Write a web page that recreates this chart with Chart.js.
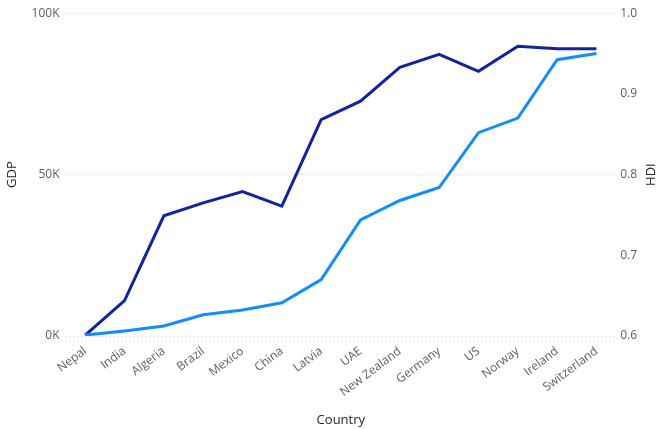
<!DOCTYPE html>
<html>
<head>
<meta charset="utf-8">
<script src="https://cdn.jsdelivr.net/npm/chart.js@4/dist/chart.umd.min.js"></script>
<style>
  html, body { margin: 0; padding: 0; background: #fff; }
  #wrap { width: 662px; height: 429px; }
</style>
</head>
<body>
<div id="wrap"><canvas id="myChart"></canvas></div>
<script>
var countries = ["Nepal", "India", "Algeria", "Brazil", "Mexico", "China", "Latvia", "UAE",
    "New Zealand", "Germany", "US", "Norway", "Ireland", "Switzerland"];
var gdp = [300, 1600, 3100, 6600, 8100, 10300, 17500, 36000, 42000, 46000, 63000, 67500, 85600, 87500];
var hdi = [0.601, 0.644, 0.749, 0.765, 0.779, 0.761, 0.868, 0.891, 0.933, 0.949, 0.928, 0.959, 0.956, 0.956];
var gdpTicks = [0, 50000, 100000];
var hdiTicks = [0.6, 0.7, 0.8, 0.9, 1.0];

var font = "'Segoe UI', 'Open Sans', sans-serif";

// right axis title reads bottom-to-top like the left one
var hdiTitle = {
    id: "hdiTitle",
    afterDraw: function (chart) {
        var c = chart.ctx;
        c.save();
        c.translate(651, (chart.chartArea.top + chart.chartArea.bottom) / 2);
        c.rotate(-Math.PI / 2);
        c.font = "13px " + font;
        c.fillStyle = "#252423";
        c.textAlign = "center";
        c.textBaseline = "middle";
        c.fillText("HDI", 0, 0);
        c.restore();
    }
};

var ctx = document.getElementById("myChart");
var myChart = new Chart(ctx, {
    type: 'line',
    data: {
        labels: countries,
        datasets: [{
                label: "GDP",
                data: gdp,
                yAxisID: "y",
                borderColor: "#118DFF",
                backgroundColor: "#118DFF",
                borderWidth: 3,
                pointRadius: 0,
                tension: 0
            },
            {
                label: "HDI",
                data: hdi,
                yAxisID: "y1",
                borderColor: "#12239E",
                backgroundColor: "#12239E",
                borderWidth: 3,
                pointRadius: 0,
                tension: 0
            }
        ]
    },
    options: {
        responsive: true,
        maintainAspectRatio: false,
        animation: false,
        layout: { padding: { left: 4, right: 21, top: 10, bottom: 1 } },
        plugins: {
            legend: { display: false },
            tooltip: { enabled: false }
        },
        scales: {
            x: {
                offset: true,
                grid: { display: false },
                border: { display: false },
                ticks: {
                    color: "#605E5C",
                    font: { family: font, size: 12 },
                    maxRotation: 37,
                    minRotation: 37,
                    autoSkip: false,
                    padding: 0
                },
                title: {
                    display: true,
                    text: "Country",
                    color: "#252423",
                    font: { family: font, size: 13 },
                    padding: { top: 13, bottom: 0 }
                }
            },
            y: {
                position: "left",
                min: 0,
                max: 100000,
                afterBuildTicks: function (axis) {
                    axis.ticks = gdpTicks.map(function (v) { return { value: v }; });
                },
                ticks: {
                    color: "#605E5C",
                    font: { family: font, size: 12 },
                    padding: 6,
                    callback: function (v) { return (v / 1000) + "K"; }
                },
                grid: { color: "#cccccc", lineWidth: 1, drawTicks: false },
                border: { display: false, dash: [1, 3] },
                title: {
                    display: true,
                    text: "GDP",
                    color: "#252423",
                    font: { family: font, size: 13 },
                    padding: { top: 0, bottom: 6 }
                }
            },
            y1: {
                position: "right",
                min: 0.6,
                max: 1.0,
                afterBuildTicks: function (axis) {
                    axis.ticks = hdiTicks.map(function (v) { return { value: v }; });
                },
                ticks: {
                    color: "#605E5C",
                    font: { family: font, size: 12 },
                    padding: 4,
                    callback: function (v) { return v.toFixed(1); }
                },
                grid: { drawOnChartArea: false, drawTicks: false },
                border: { display: false }
            }
        }
    },
    plugins: [hdiTitle]
});
</script>
</body>
</html>
